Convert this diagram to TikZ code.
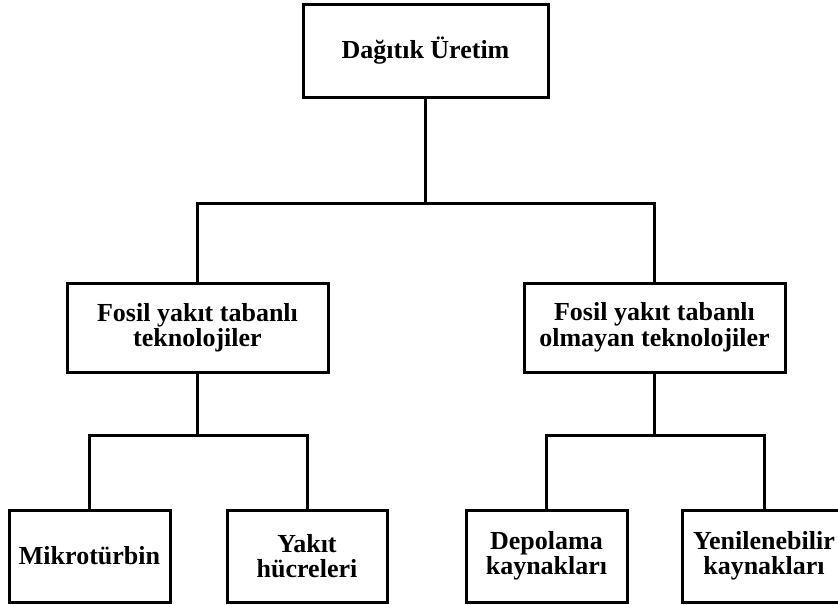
\documentclass[tikz,border=0pt]{standalone}
\usepackage{fontspec}
\setmainfont{Liberation Serif}
\begin{document}
\begin{tikzpicture}[x=1pt,y=-1pt,
  box/.style={draw, line width=3pt, rectangle, align=center, inner sep=0pt,
    font=\fontsize{26}{25.5}\selectfont\bfseries, minimum height=90pt},
  link/.style={line width=3pt}]
  \useasboundingbox (0,0) rectangle (838,605);
  % boxes
  \node[box, minimum width=245pt, minimum height=93pt] (top) at (425.5,50.5) {Dağıtık Üretim};
  \node[box, minimum width=261pt, minimum height=89pt] (fos) at (197.5,327.5) {Fosil yakıt tabanlı\\teknolojiler};
  \node[box, minimum width=261pt, minimum height=89pt] (nfos) at (654.5,327.5) {Fosil yakıt tabanlı\\olmayan teknolojiler};
  \node[box, minimum width=161pt, minimum height=92pt] (mikro) at (89.5,556) {Mikrotürbin};
  \node[box, minimum width=160pt, minimum height=92pt] (yakit) at (307,556) {Yakıt\\hücreleri};
  \node[box, minimum width=161pt, minimum height=92pt] (depo) at (546.5,556) {Depolama\\kaynakları};
  \node[box, minimum width=164pt, minimum height=92pt] (yeni) at (764,556) {Yenilenebilir\\kaynakları};
  % junction points
  \coordinate (j1) at (425.5,203);
  \coordinate (j2) at (197.5,435);
  \coordinate (j3) at (654.5,435);
  % connectors
  \draw[link] (top.south) -- (j1);
  \draw[link] (fos.north) |- (j1) -| (nfos.north);
  \draw[link] (fos.south) -- (j2);
  \draw[link] (mikro.north) |- (j2) -| (yakit.north);
  \draw[link] (nfos.south) -- (j3);
  \draw[link] (depo.north) |- (j3) -| (yeni.north);
\end{tikzpicture}
\end{document}
